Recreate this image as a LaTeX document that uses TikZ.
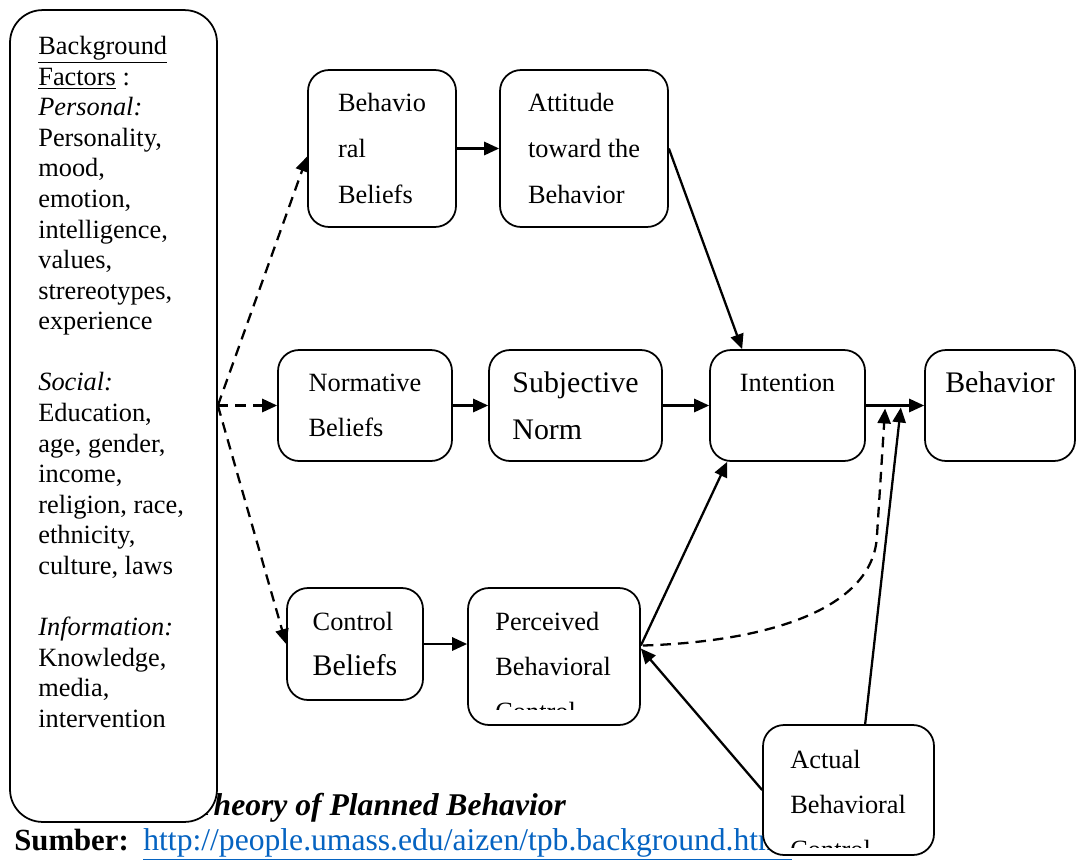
\documentclass[tikz,border=0pt]{standalone}
\usepackage{fontspec}
\setmainfont{Liberation Serif}
\usetikzlibrary{arrows.meta, positioning, calc}
\definecolor{linkblue}{RGB}{5, 99, 193}
\newcommand{\bigtxt}{\fontsize{17pt}{27pt}\selectfont}

\begin{document}
\begin{tikzpicture}[
    x=0.02cm, y=-0.02cm,
    box/.style={
        rectangle,
        draw=black,
        fill=white,
        line width=1pt,
        rounded corners=0.42cm,
        align=left,
        inner sep=0pt,
        font=\fontsize{15pt}{26pt}\selectfont
    },
    bgbox/.style={
        rectangle,
        draw=black,
        fill=white,
        line width=1pt,
        rounded corners=0.65cm,
        minimum width=4.14cm,
        minimum height=16.24cm
    },
    bgtext/.style={
        align=left,
        inner sep=0pt,
        anchor=north west,
        font=\fontsize{15pt}{17.4pt}\selectfont
    },
    cliptext/.style={
        align=left,
        inner sep=0pt,
        anchor=north west,
        font=\fontsize{15pt}{25.6pt}\selectfont
    },
    foot/.style={
        inner sep=0pt,
        anchor=base west,
        font=\fontsize{#1}{20pt}\selectfont
    },
    arrow/.style={
        -{Triangle[length=8.5pt,width=7.5pt]},
        line width=1.3pt
    },
    dasharrow/.style={
        arrow,
        dash pattern=on 6pt off 4pt
    }
]
\useasboundingbox (0,0) rectangle (1077,859);

% Caption and source line (partly hidden by the boxes)
\node[foot=18pt] (caption) at (194,815) {\bfseries\itshape Theory of Planned Behavior};
\node[foot=17.5pt] (sumber) at (14,850) {\bfseries Sumber:};
\node[foot=18pt, text=linkblue] (url) at (143,850) {\underline{http://people.umass.edu/aizen/tpb.background.html}};

% Background factors
\node[bgbox] (bg) at (113.5,416) {};
\node[bgtext] (bgtxt) at (38,36) {\underline{Background}\\
\underline{Factors} :\\
\emph{Personal:}\\
Personality,\\
mood,\\
emotion,\\
intelligence,\\
values,\\
strereotypes,\\
experience\\[17.4pt]
\emph{Social:}\\
Education,\\
age, gender,\\
income,\\
religion, race,\\
ethnicity,\\
culture, laws\\[17.4pt]
\emph{Information:}\\
Knowledge,\\
media,\\
intervention};

% Beliefs and their results
\node[box, minimum width=2.96cm, minimum height=3.14cm] (behb) at (382,148.5) {Behavio\\ral\\Beliefs};
\node[box, minimum width=3.36cm, minimum height=3.14cm] (att) at (584,148.5) {Attitude\\toward the\\Behavior};
\node[box, minimum width=3.48cm, minimum height=2.22cm] (norm) at (365,405.5) {Normative\\Beliefs};
\node[box, minimum width=3.46cm, minimum height=2.22cm, font=\bigtxt] (subj) at (575.5,405.5) {Subjective\\Norm};
\node[box, minimum width=3.1cm, minimum height=2.22cm] (int) at (787.5,405.5) {Intention\\~};
\node[box, minimum width=3.0cm, minimum height=2.22cm, font=\bigtxt] (beh) at (1000,405.5) {Behavior\\~};
\node[box, minimum width=2.72cm, minimum height=2.24cm] (ctrl) at (355,644) {Control\\{\bigtxt Beliefs}};

% Perceived control, text cut off at the bottom
\node[box, minimum width=3.44cm, minimum height=2.74cm] (pbc) at (554,656.5) {};
\begin{scope}
  \clip (pbc.north west) rectangle ($(pbc.south east)+(0,-16)$);
  \node[cliptext] (pbctxt) at (495,612) {Perceived\\Behavioral\\Control};
\end{scope}

% Connectors
\coordinate (fork) at (bg.east |- norm.west);
\draw[dasharrow] (fork) -- ($(behb.west)+(0,8)$);
\draw[dasharrow] (fork) -- (norm.west);
\draw[dasharrow] (fork) -- (ctrl.west);
\draw[arrow] (behb.east) -- (att.west);
\draw[arrow] (norm.east) -- (subj.west);
\draw[arrow] (subj.east) -- (int.west);
\draw[arrow] (int.east) -- (beh.west);
\draw[arrow] (ctrl.east) -- (ctrl.east -| pbc.west);
\draw[arrow] (att.east) -- ($(int.north west)+(33,0)$);
\draw[arrow] ($(pbc.east)+(0,-11)$) -- ($(int.south west)+(18,0)$);

% Actual control, drawn over the source line
\node[box, minimum width=3.42cm, minimum height=2.6cm] (abc) at (848.5,790) {};
\begin{scope}
  \clip (abc.north west) rectangle ($(abc.south east)+(0,-8)$);
  \node[cliptext] (abctxt) at (790,750) {Actual\\Behavioral\\Control};
\end{scope}

\coordinate (mergeA) at ($(int.east)!0.33!(beh.west)$);
\coordinate (mergeB) at ($(int.east)!0.6!(beh.west)$);
\draw[arrow] (abc.west) -- ($(pbc.east)+(0,-8)$);
\draw[arrow] ($(abc.north west)+(103,0)$) -- ($(mergeB)+(0,2)$);
\draw[dasharrow] ($(pbc.east)+(2,-11)$) .. controls (760,642) and (874,612) .. (877,535) -- ($(mergeA)+(0,3)$);

\end{tikzpicture}
\end{document}
